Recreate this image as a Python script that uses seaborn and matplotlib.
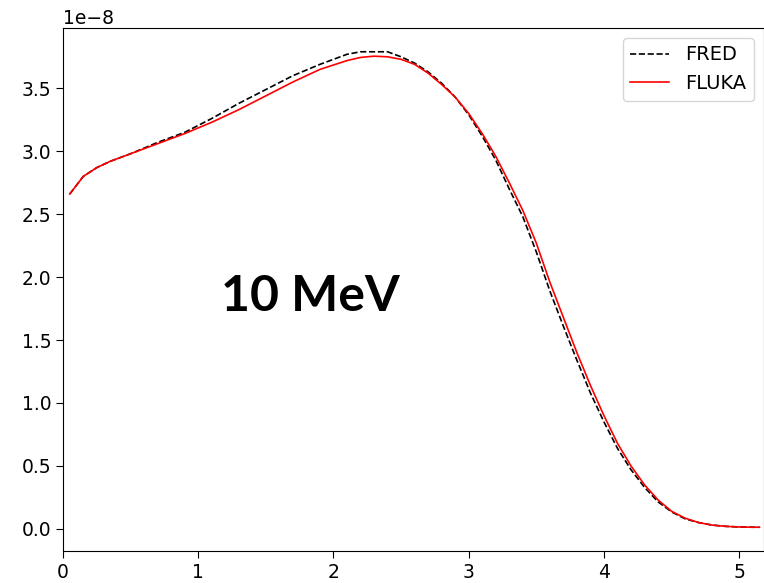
import numpy as np
import pandas as pd
import matplotlib
matplotlib.use("Agg")
import matplotlib.pyplot as plt
import seaborn as sns

depth = [0.05, 0.15, 0.25, 0.35, 0.5, 0.7, 0.9, 1.1, 1.3, 1.5, 1.7, 1.9, 2.1, 2.2,
         2.3, 2.4, 2.5, 2.6, 2.7, 2.8, 2.9, 3.0, 3.1, 3.2, 3.3, 3.4, 3.5, 3.6, 3.7,
         3.8, 3.9, 4.0, 4.1, 4.2, 4.3, 4.4, 4.5, 4.6, 4.7, 4.8, 4.9, 5.0, 5.1, 5.15]

fred = [2.66, 2.80, 2.87, 2.92, 2.98, 3.07, 3.15, 3.26, 3.38, 3.49, 3.60, 3.69, 3.77, 3.79,
        3.79, 3.79, 3.75, 3.70, 3.63, 3.54, 3.43, 3.29, 3.12, 2.93, 2.70, 2.48, 2.20, 1.89, 1.61,
        1.34, 1.08, 0.85, 0.64, 0.47, 0.33, 0.215, 0.135, 0.08, 0.05, 0.03, 0.02, 0.015, 0.013, 0.013]

fluka = [2.66, 2.80, 2.87, 2.92, 2.98, 3.06, 3.14, 3.23, 3.33, 3.44, 3.55, 3.65, 3.72, 3.745,
         3.755, 3.75, 3.73, 3.69, 3.62, 3.53, 3.43, 3.30, 3.14, 2.96, 2.75, 2.53, 2.27, 1.96, 1.68,
         1.40, 1.14, 0.90, 0.68, 0.50, 0.35, 0.23, 0.14, 0.085, 0.05, 0.03, 0.02, 0.015, 0.013, 0.013]

scale = 1e-8
df_fred = pd.DataFrame({"x": depth, "y": np.array(fred) * scale})
df_fluka = pd.DataFrame({"x": depth, "y": np.array(fluka) * scale})

plt.rcParams["font.family"] = ["DejaVu Sans"]
plt.rcParams["font.size"] = 13.5

fig = plt.figure(figsize=(7.64, 5.83), dpi=100)
ax = fig.add_axes([63 / 764, 32 / 583, 700.5 / 764, 523 / 583])

sns.lineplot(data=df_fred, x="x", y="y", ax=ax, color="black", linestyle="--",
             linewidth=1.2, label="FRED")
sns.lineplot(data=df_fluka, x="x", y="y", ax=ax, color="red", linestyle="-",
             linewidth=1.2, label="FLUKA")

ax.set_xlim(0, 5.18)
ax.set_xlabel("")
ax.set_ylabel("")
ax.tick_params(labelsize=13.5, length=5)
ax.yaxis.get_offset_text().set_fontsize(13.5)
ax.legend(loc="upper right", fontsize=14, borderaxespad=0.5)

fig.text(221 / 764, (583 - 311) / 583, "10 MeV", family=["Lato", "DejaVu Sans"],
         fontweight="bold", fontsize=36, ha="left", va="baseline")

fig.savefig("out.png", dpi=100)
